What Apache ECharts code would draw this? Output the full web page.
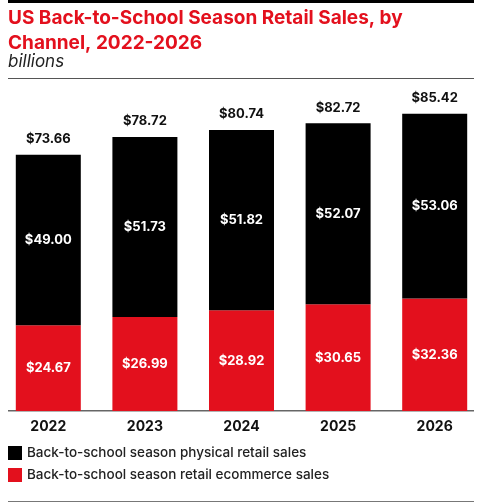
<!DOCTYPE html>
<html>
<head>
<meta charset="utf-8">
<script src="https://cdn.jsdelivr.net/npm/echarts@6/dist/echarts.min.js"></script>
<style>
  html, body { margin: 0; padding: 0; background: #fff; }
  #chart { width: 490px; height: 503px; }
</style>
</head>
<body>
<div id="chart"></div>
<script>
// 年份与两个渠道的数据（十亿美元）
const years = ['2022', '2023', '2024', '2025', '2026'];
const ecommerceSales = [24.67, 26.99, 28.92, 30.65, 32.36];
const physicalSales = [49.00, 51.73, 51.82, 52.07, 53.06];
const totalSales = [73.66, 78.72, 80.74, 82.72, 85.42];

const seriesNames = [
  'Back-to-school season physical retail sales',
  'Back-to-school season retail ecommerce sales'
];

const FONT = 'Inter, "Open Sans", sans-serif';
const RED = '#e3101d';

const chart = echarts.init(document.getElementById('chart'));

const money = v => '$' + v.toFixed(2);

chart.setOption({
  animation: false,
  textStyle: { fontFamily: FONT },
  title: [
    {
      text: 'US Back-to-School Season Retail Sales, by\nChannel, 2022-2026',
      left: 3,
      top: 1,
      textStyle: { color: RED, fontSize: 19, fontWeight: 'bold', lineHeight: 25, fontFamily: FONT }
    },
    {
      text: 'billions',
      left: 3,
      top: 48,
      textStyle: { color: '#222', fontSize: 17, fontStyle: 'italic', fontWeight: 'normal', fontFamily: FONT }
    }
  ],
  legend: {
    orient: 'vertical',
    left: 3,
    top: 441,
    itemWidth: 14,
    itemHeight: 14,
    itemGap: 8,
    icon: 'rect',
    data: seriesNames,
    textStyle: { color: '#222', fontSize: 13.5, fontWeight: 500, fontFamily: FONT }
  },
  grid: { left: -2, right: 7, top: 63, bottom: 92 },
  xAxis: {
    type: 'category',
    data: years,
    axisLine: { show: false },
    axisTick: { show: false },
    axisLabel: { color: '#111', fontSize: 14, fontWeight: 'bold', margin: 9 }
  },
  yAxis: {
    type: 'value',
    min: 0,
    max: 100,
    show: false,
    splitLine: { show: false }
  },
  series: [
    {
      name: seriesNames[1],
      type: 'bar',
      stack: 'total',
      barWidth: 65,
      data: ecommerceSales,
      itemStyle: { color: RED },
      label: {
        show: true,
        position: 'inside',
        color: '#fff',
        fontSize: 13,
        fontWeight: 'bold',
        formatter: p => money(p.value)
      }
    },
    {
      name: seriesNames[0],
      type: 'bar',
      stack: 'total',
      barWidth: 65,
      data: physicalSales,
      itemStyle: { color: '#000' },
      label: {
        show: true,
        position: 'inside',
        color: '#fff',
        fontSize: 13,
        fontWeight: 'bold',
        formatter: p => money(p.value)
      }
    },
    {
      // 顶部总计标签
      name: 'total',
      type: 'bar',
      stack: 'total',
      barWidth: 65,
      data: totalSales.map(() => 0),
      itemStyle: { color: 'transparent' },
      label: {
        show: true,
        position: 'top',
        distance: 9,
        color: '#111',
        fontSize: 13,
        fontWeight: 'bold',
        formatter: p => money(totalSales[p.dataIndex])
      },
      tooltip: { show: false }
    }
  ],
  graphic: [
    { type: 'rect', shape: { x: 8, y: 0, width: 466, height: 3 }, style: { fill: '#000' } },
    { type: 'rect', shape: { x: 8, y: 78, width: 466, height: 1 }, style: { fill: '#555' } },
    { type: 'rect', shape: { x: 8, y: 410, width: 466, height: 1.5 }, style: { fill: '#666' } },
    { type: 'rect', shape: { x: 8, y: 501, width: 466, height: 1 }, style: { fill: '#777' } }
  ]
});
</script>
</body>
</html>
